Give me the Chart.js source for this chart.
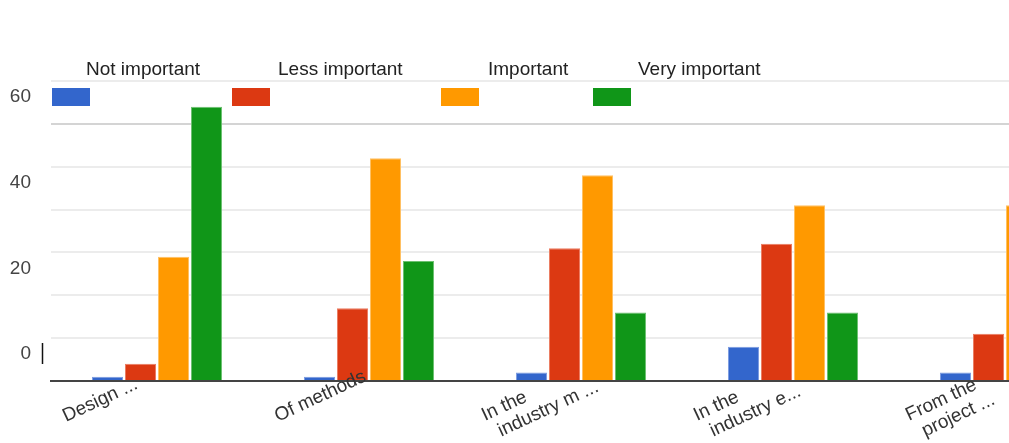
<!DOCTYPE html>
<html>
<head>
<meta charset="utf-8">
<script src="https://cdn.jsdelivr.net/npm/chart.js@4/dist/chart.umd.min.js"></script>
<style>
  html, body { margin: 0; padding: 0; background: #fff; overflow: hidden; width: 1009px; height: 443px; }
  #wrap { position: relative; width: 1111px; height: 443px; }
</style>
</head>
<body>
<div id="wrap"><canvas id="c" width="1111" height="443"></canvas></div>
<script>
// Survey answers: how important each aspect is (number of respondents)
const categories = [
  'Design ...',
  'Of methods',
  ['In the', 'industry m ...'],
  ['In the', 'industry e...'],
  ['From the', 'project ...']
];
const seriesNames = ['Not important', 'Less important', 'Important', 'Very important'];
const notImportant  = [1, 1, 2, 8, 2];
const lessImportant = [4, 17, 31, 32, 11];
const important     = [29, 52, 48, 41, 41];
const veryImportant = [64, 28, 16, 16, 44];
const yLabels = [0, 20, 40, 60];

const colors = ['#3366cc', '#dc3912', '#ff9900', '#109618'];
const edges  = ['#7c9be0', '#ec7c62', '#ffc266', '#6cc070'];
const FONT = '"Liberation Sans", Arial, sans-serif';

// Legend: swatch row under a row of names, drawn over the plot top
const legendPlugin = {
  id: 'topLegend',
  afterDatasetsDraw(chart, args, opts) {
    const ctx = chart.ctx;
    ctx.save();
    ctx.font = '19px ' + FONT;
    ctx.textBaseline = 'alphabetic';
    chart.data.datasets.forEach((ds, i) => {
      ctx.fillStyle = ds.backgroundColor;
      ctx.fillRect(opts.boxX[i], opts.boxY, opts.boxW, opts.boxH);
      ctx.fillStyle = '#222';
      ctx.fillText(ds.label, opts.textX[i], opts.textY);
    });
    // text caret beside the zero label
    ctx.strokeStyle = '#111';
    ctx.lineWidth = 1.5;
    ctx.beginPath();
    ctx.moveTo(42.5, 343);
    ctx.lineTo(42.5, 364);
    ctx.stroke();
    ctx.restore();
  }
};

// Category names: slanted, left-aligned lines starting below-left of each tick
const slantLabels = {
  id: 'slantLabels',
  afterDraw(chart, args, opts) {
    const ctx = chart.ctx;
    const xs = chart.scales.x;
    const ang = -opts.angle * Math.PI / 180;
    ctx.save();
    ctx.font = '19px ' + FONT;
    ctx.fillStyle = '#333';
    ctx.textAlign = 'left';
    ctx.textBaseline = 'alphabetic';
    chart.data.labels.forEach((lab, i) => {
      const lines = Array.isArray(lab) ? lab : [lab];
      const n = lines.length - 1;
      const px = xs.getPixelForTick(i) + opts.dx - n * 5;
      const py = opts.y - n;
      ctx.save();
      ctx.translate(px, py);
      ctx.rotate(ang);
      lines.forEach((t, k) => ctx.fillText(t, k * opts.shift, k * opts.lineHeight));
      ctx.restore();
    });
    ctx.restore();
  }
};

const seriesValues = [notImportant, lessImportant, important, veryImportant];

new Chart(document.getElementById('c'), {
  type: 'bar',
  data: {
    labels: categories,
    datasets: seriesNames.map((name, i) => ({
      label: name,
      data: seriesValues[i],
      backgroundColor: colors[i],
      borderColor: edges[i],
      borderWidth: 1,
      borderSkipped: 'bottom',
      categoryPercentage: 0.623,
      barPercentage: 0.94
    }))
  },
  options: {
    responsive: false,
    animation: false,
    devicePixelRatio: 1,
    layout: { padding: { top: 81, left: 0, right: 0, bottom: 0 } },
    plugins: {
      legend: { display: false },
      tooltip: { enabled: false },
      topLegend: {
        boxX: [52, 232, 441, 593],
        textX: [86, 278, 488, 638],
        boxY: 88, boxW: 38, boxH: 18,
        textY: 75
      },
      slantLabels: { angle: 25, dx: -91, y: 422, lineHeight: 21, shift: 8 }
    },
    scales: {
      x: {
        grid: { display: false, drawTicks: false },
        border: { display: true, color: '#444', width: 2 },
        ticks: { display: false },
        afterFit(scale) { scale.height = 62; }
      },
      y: {
        min: 0,
        max: 70,
        grid: {
          drawTicks: false,
          lineWidth: 2,
          color: (c) => (c.tick && c.tick.value === 60 ? '#d4d4d4' : '#ececec')
        },
        border: { display: false },
        ticks: {
          stepSize: 10,
          font: { family: FONT, size: 19 },
          color: '#444',
          padding: 20,
          labelOffset: -27,
          callback: (v) => (yLabels.includes(v) ? String(v) : '')
        },
        afterFit(scale) { scale.width = 51; }
      }
    }
  },
  plugins: [legendPlugin, slantLabels]
});
</script>
</body>
</html>
